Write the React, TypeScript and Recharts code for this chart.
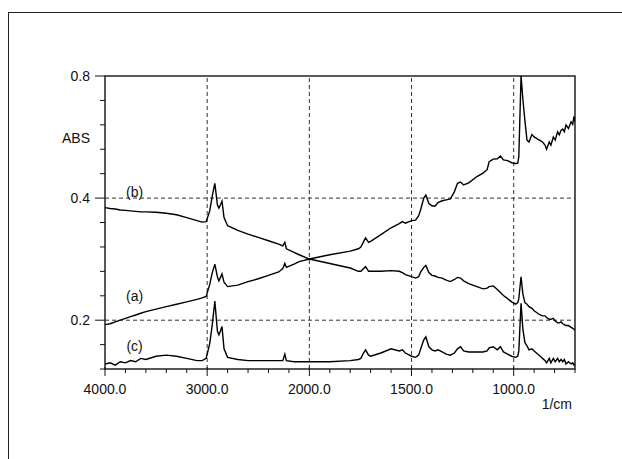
import React from 'react'
import { LineChart, Line, XAxis, YAxis, ReferenceLine, ReferenceArea, ReferenceDot } from 'recharts'

// wavenumbers (1/cm), shared by the three spectra
const wavenumbers = [
  4000, 3950, 3900, 3850, 3800, 3750, 3700, 3650, 3600, 3500,
  3400, 3300, 3200, 3100, 3050, 3010, 2975, 2950, 2925, 2900,
  2885, 2870, 2855, 2835, 2800, 2700, 2600, 2500, 2400, 2300,
  2260, 2240, 2225, 2150, 2100, 2000, 1900, 1800, 1760, 1748,
  1735, 1725, 1710, 1700, 1650, 1600, 1560, 1545, 1530, 1500,
  1480, 1465, 1455, 1440, 1430, 1415, 1400, 1385, 1370, 1350,
  1330, 1310, 1290, 1275, 1260, 1245, 1220, 1180, 1150, 1130,
  1120, 1100, 1080, 1065, 1050, 1030, 1010, 990, 980, 975,
  964, 955, 945, 935, 925, 911, 900, 883, 870, 859,
  846, 839, 826, 818, 806, 797, 785, 777, 768, 760,
  752, 744, 732, 719, 711, 705, 700,
]

const absA = [
  0.195, 0.196, 0.198, 0.200, 0.202, 0.204, 0.206, 0.208, 0.210, 0.213,
  0.216, 0.219, 0.222, 0.225, 0.227, 0.229, 0.245, 0.262, 0.275, 0.256,
  0.250, 0.255, 0.260, 0.248, 0.242, 0.244, 0.249, 0.253, 0.258, 0.263,
  0.268, 0.276, 0.270, 0.275, 0.279, 0.283, 0.290, 0.296, 0.300, 0.303,
  0.312, 0.319, 0.311, 0.313, 0.325, 0.338, 0.346, 0.350, 0.347, 0.352,
  0.353, 0.362, 0.375, 0.400, 0.407, 0.388, 0.383, 0.382, 0.390, 0.394,
  0.396, 0.398, 0.415, 0.435, 0.438, 0.431, 0.436, 0.452, 0.461, 0.470,
  0.492, 0.499, 0.500, 0.508, 0.497, 0.495, 0.489, 0.487, 0.488, 0.506,
  0.800, 0.700, 0.620, 0.556, 0.550, 0.574, 0.566, 0.559, 0.554, 0.550,
  0.540, 0.528, 0.550, 0.540, 0.566, 0.556, 0.583, 0.573, 0.588, 0.592,
  0.583, 0.606, 0.594, 0.617, 0.608, 0.636, 0.617,
]

const absB = [
  0.379, 0.377, 0.376, 0.374, 0.373, 0.372, 0.371, 0.370, 0.370, 0.369,
  0.367, 0.364, 0.358, 0.352, 0.349, 0.350, 0.372, 0.405, 0.435, 0.385,
  0.378, 0.385, 0.393, 0.358, 0.342, 0.333, 0.326, 0.320, 0.314, 0.308,
  0.305, 0.311, 0.300, 0.294, 0.290, 0.283, 0.276, 0.269, 0.264, 0.264,
  0.268, 0.271, 0.264, 0.264, 0.264, 0.265, 0.264, 0.262, 0.259, 0.256,
  0.254, 0.256, 0.263, 0.270, 0.273, 0.262, 0.258, 0.257, 0.255, 0.254,
  0.251, 0.249, 0.252, 0.255, 0.254, 0.250, 0.246, 0.242, 0.239, 0.240,
  0.242, 0.243, 0.238, 0.234, 0.230, 0.226, 0.222, 0.219, 0.221, 0.226,
  0.256, 0.232, 0.221, 0.219, 0.216, 0.214, 0.211, 0.208, 0.206, 0.205,
  0.205, 0.203, 0.201, 0.201, 0.202, 0.199, 0.197, 0.197, 0.198, 0.196,
  0.195, 0.194, 0.194, 0.192, 0.191, 0.190, 0.189,
]

const absC = [
  0.156, 0.157, 0.155, 0.158, 0.157, 0.159, 0.158, 0.161, 0.160, 0.163,
  0.164, 0.163, 0.161, 0.159, 0.159, 0.161, 0.175, 0.195, 0.223, 0.188,
  0.184, 0.188, 0.193, 0.170, 0.162, 0.160, 0.159, 0.159, 0.159, 0.159,
  0.159, 0.165, 0.159, 0.158, 0.158, 0.158, 0.158, 0.159, 0.160, 0.161,
  0.166, 0.169, 0.164, 0.163, 0.166, 0.170, 0.168, 0.169, 0.166, 0.163,
  0.162, 0.164, 0.170, 0.179, 0.182, 0.172, 0.169, 0.168, 0.169, 0.167,
  0.165, 0.164, 0.166, 0.170, 0.172, 0.168, 0.167, 0.167, 0.167, 0.168,
  0.171, 0.172, 0.169, 0.172, 0.167, 0.165, 0.163, 0.162, 0.163, 0.168,
  0.220, 0.190, 0.176, 0.173, 0.169, 0.170, 0.168, 0.165, 0.163, 0.161,
  0.159, 0.157, 0.161, 0.157, 0.161, 0.158, 0.161, 0.158, 0.160, 0.158,
  0.160, 0.156, 0.158, 0.156, 0.157, 0.155, 0.156,
]

const xTicks = [
  4000, 3800, 3600, 3400, 3200, 3000, 2800, 2600, 2400, 2200, 2000,
  1900, 1800, 1700, 1600, 1500, 1400, 1300, 1200, 1100, 1000, 900, 800, 700,
]
const xMajor = [4000, 3000, 2000, 1500, 1000]
const xGrid = [3000, 2000, 1500, 1000]

const yTicks = [0.8, 0.6964, 0.6063, 0.5278, 0.4595, 0.4, 0.3482, 0.3031, 0.2639, 0.2297, 0.2, 0.1741, 0.1516]
const yMajor = [0.8, 0.4, 0.2]
const yGrid = [0.4, 0.2]
const yMin = 0.1516
const yMax = 0.8

const tags = [
  { text: '(b)', wn: 3710, abs: 0.414 },
  { text: '(a)', wn: 3710, abs: 0.229 },
  { text: '(c)', wn: 3710, abs: 0.1726 },
]

const FONT = '"Liberation Sans", Arial, sans-serif'
const INK = '#111'

// IR axis: scale doubles below 2000 1/cm
const toAxis = (wn: number) => (wn >= 2000 ? 4000 - wn : 2000 + 2 * (2000 - wn))
const fromAxis = (u: number) => Math.round(u <= 2000 ? 4000 - u : 2000 - (u - 2000) / 2)

const rows = wavenumbers.map((wn, i) => ({ x: toAxis(wn), a: absA[i], b: absB[i], c: absC[i] }))

const XTick = (props: any) => {
  const { x, y, payload } = props
  const wn = fromAxis(payload.value)
  const major = xMajor.includes(wn)
  return (
    <g>
      <line x1={x} x2={x} y1={y - (major ? 2 : 0)} y2={y + (major ? 7 : 4)} stroke={INK} />
      {major && (
        <text x={x} y={y + 25} textAnchor="middle" fontSize={14} fontFamily={FONT} fill={INK}>
          {wn.toFixed(1)}
        </text>
      )}
    </g>
  )
}

const YTick = (props: any) => {
  const { x, y, payload } = props
  const major = yMajor.includes(payload.value)
  return (
    <g>
      <line x1={x - (major ? 10 : 5)} x2={x} y1={y} y2={y} stroke={INK} />
      {major && (
        <text x={x - 15} y={y + 5} textAnchor="end" fontSize={14} fontFamily={FONT} fill={INK}>
          {payload.value.toFixed(1)}
        </text>
      )}
    </g>
  )
}

export default function App() {
  return (
    <div style={{ position: 'absolute', left: 0, top: 0, width: 622, height: 459, overflow: 'hidden', background: '#fff' }}>
      <div style={{ position: 'absolute', left: 8, top: 12, width: 700, height: 600, border: '1px solid #222' }} />
      <div style={{ position: 'absolute', left: 0, top: 0 }}>
        <LineChart width={622} height={459} data={rows} margin={{ top: 76, right: 47, bottom: 50, left: 45 }}>
          <XAxis
            dataKey="x"
            type="number"
            domain={[0, toAxis(700)]}
            ticks={xTicks.map(toAxis)}
            interval={0}
            allowDataOverflow
            axisLine={false}
            tickLine={false}
            tickSize={0}
            tickMargin={0}
            height={40}
            tick={<XTick />}
            label={{
              content: (p: any) => (
                <text x={p.viewBox.x + p.viewBox.width - 3} y={p.viewBox.y + 40} textAnchor="end" fontSize={14} fontFamily={FONT} fill={INK}>
                  1/cm
                </text>
              ),
            }}
          />
          <YAxis
            type="number"
            scale="log"
            domain={[yMin, yMax]}
            ticks={yTicks}
            interval={0}
            allowDataOverflow
            axisLine={false}
            tickLine={false}
            tickSize={0}
            tickMargin={0}
            width={60}
            tick={<YTick />}
            label={{
              content: (p: any) => (
                <text x={p.viewBox.x + p.viewBox.width - 15} y={p.viewBox.y + 67} textAnchor="end" fontSize={14} fontFamily={FONT} fill={INK}>
                  ABS
                </text>
              ),
            }}
          />
          {xGrid.map((wn) => (
            <ReferenceLine key={'gx' + wn} x={toAxis(wn)} stroke="#333" strokeDasharray="4 3" />
          ))}
          {yGrid.map((v) => (
            <ReferenceLine key={'gy' + v} y={v} stroke="#333" strokeDasharray="4 3" />
          ))}
          <ReferenceArea x1={0} x2={toAxis(700)} y1={yMin} y2={yMax} fill="none" stroke="#222" strokeWidth={1.5} />
          {tags.map((t) => (
            <ReferenceDot
              key={t.text}
              x={toAxis(t.wn)}
              y={t.abs}
              r={0}
              fill="none"
              stroke="none"
              label={{ value: t.text, position: 'center', fontSize: 14, fontFamily: FONT, fill: INK }}
            />
          ))}
          <Line dataKey="a" type="linear" stroke="#000" strokeWidth={1.4} dot={false} isAnimationActive={false} />
          <Line dataKey="b" type="linear" stroke="#000" strokeWidth={1.4} dot={false} isAnimationActive={false} />
          <Line dataKey="c" type="linear" stroke="#000" strokeWidth={1.4} dot={false} isAnimationActive={false} />
        </LineChart>
      </div>
    </div>
  )
}
